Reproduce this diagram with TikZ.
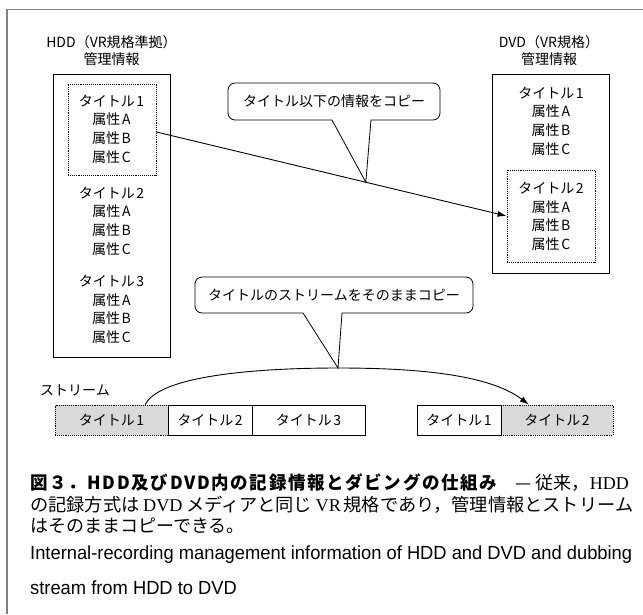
\documentclass[tikz,border=0pt]{standalone}
\usepackage{graphicx}
\usepackage{fontspec}
\setmainfont{Liberation Sans}
\newfontfamily\jp{Noto Sans CJK JP}
\newfontfamily\jpbs[LetterSpace=9.5]{Noto Sans CJK JP}
\newfontfamily\serifl{Liberation Serif}
\newfontfamily\eng{Liberation Sans}
\usetikzlibrary{arrows.meta,calc}
\newcommand{\jsp}{\hspace{0.12em}}
\newsavebox\englbox
\begin{document}
\sbox\englbox{\eng\fontsize{19}{22}\selectfont Internal-recording management information of HDD and DVD and dubbing}%
\pgfmathsetmacro\engfac{602/\wd\englbox}%
\begin{tikzpicture}[x=1pt,y=-1pt,
  font=\jp\fontsize{14}{18.7}\selectfont,
  box/.style={draw, line width=0.9pt, inner sep=0pt},
  dotbox/.style={draw, densely dotted, line width=0.9pt, inner sep=0pt},
  lbl/.style={align=center, inner sep=0pt},
  sstream/.style={draw, line width=0.9pt, inner sep=0pt, minimum height=30pt},
  gstream/.style={draw, densely dotted, line width=0.9pt, fill=gray!30, inner sep=0pt, minimum height=30pt},
  callout/.style={line width=0.8pt},
  arr/.style={line width=0.9pt, -{Latex[length=9pt,width=6pt]}},
  captext/.style={anchor=west, inner sep=0pt}]
\useasboundingbox (0,0) rectangle (643,614);
% outer frame
\draw[gray, line width=1.2pt] (643,9.5) -- (7,9.5) -- (7,614);

% HDD side
\node[lbl, font=\jp\fontsize{14}{17}\selectfont] (hddlbl) at (111.5,50.5) {HDD（VR規格準拠）\\管理情報};
\node[box, minimum width=117pt, minimum height=283pt] (hdd) at (111.5,215.5) {};
\node[dotbox, minimum width=88pt, minimum height=91pt] (hdd1) at (112,129.5) {};
\node[lbl] (h1t) at (111.5,129) {タイトル\jsp 1\\属性\jsp A\\属性\jsp B\\属性\jsp C};
\node[lbl] (h2t) at (111.5,221) {タイトル\jsp 2\\属性\jsp A\\属性\jsp B\\属性\jsp C};
\node[lbl] (h3t) at (111.5,309.5) {タイトル\jsp 3\\属性\jsp A\\属性\jsp B\\属性\jsp C};

% DVD side
\node[lbl, font=\jp\fontsize{14}{17}\selectfont] (dvdlbl) at (549,50.5) {DVD（VR規格）\\管理情報};
\node[box, minimum width=117pt, minimum height=199pt] (dvd) at (550.5,173.5) {};
\node[dotbox, minimum width=88pt, minimum height=92pt] (dvd2) at (551,216) {};
\node[lbl] (d1t) at (551,121) {タイトル\jsp 1\\属性\jsp A\\属性\jsp B\\属性\jsp C};
\node[lbl] (d2t) at (551,216.5) {タイトル\jsp 2\\属性\jsp A\\属性\jsp B\\属性\jsp C};

% copy arrow
\coordinate (as) at ($(hdd1.east)+(0,2.5)$);
\draw[arr] (as) -- (dvd2.west);
\coordinate (tip1) at ($(as)!0.598!(dvd2.west)$);

% callout 1
\draw[callout] (332,120) -- (300,120) [rounded corners=7pt] -- (228,120) -- (228,83) -- (440,83) -- (440,120) -- (400,120) [sharp corners] -- (371,120) -- (tip1) -- cycle;
\node[inner sep=0pt] (c1) at (334,101.5) {タイトル以下の情報をコピー};

% streams
\node[anchor=west, inner sep=0pt] (strl) at (40,390) {ストリーム};
\node[gstream, minimum width=113pt] (hs1) at (111.5,420) {タイトル\jsp 1};
\node[gstream, minimum width=112pt] (ds2) at (557,420) {タイトル\jsp 2};
\node[sstream, minimum width=84pt] (hs2) at (210,420) {タイトル\jsp 2};
\node[sstream, minimum width=113pt] (hs3) at (308.5,420) {タイトル\jsp 3};
\node[sstream, minimum width=84pt] (ds1) at (459,420) {タイトル\jsp 1};

% stream copy curve
\coordinate (cs) at ($(hs1.north west)!0.796!(hs1.north east)$);
\coordinate (ce) at ($(ds2.north west)!0.25!(ds2.north east)$);
\coordinate (peak) at (338,368);
\draw[arr] (cs) .. controls (160,375) and (260,368) .. (peak) .. controls (420,368) and (490,375) .. (ce);

% callout 2
\draw[callout] (303,313) -- (280,313) [rounded corners=7pt] -- (195,313) -- (195,277) -- (473,277) -- (473,313) -- (400,313) [sharp corners] -- (342,313) -- (peak) -- cycle;
\node[inner sep=0pt] (c2) at (334,295) {タイトルのストリームをそのままコピー};

% caption
\node[captext] (cap1) at (30,483) {\resizebox{467pt}{\height}{\jpbs\bfseries\fontsize{18}{22}\selectfont 図３．HDD及びDVD内の記録情報とダビングの仕組み}};
\node[anchor=east, inner sep=0pt] (cap1b) at (629,483) {\fontsize{18}{22}\selectfont — 従来，{\serifl HDD}};
\node[captext] (cap2) at (30,505) {\resizebox{603pt}{\height}{\fontsize{18}{22}\selectfont の記録方式は\hspace{0.2em}{\serifl DVD}\hspace{0.2em}メディアと同じ\hspace{0.2em}{\serifl VR}\hspace{0.15em}規格であり，管理情報とストリーム}};
\node[captext] (cap3) at (30,526) {\fontsize{18}{22}\selectfont はそのままコピーできる。};
\node[captext] (eng1) at (30,555) {\scalebox{\engfac}[1]{\usebox\englbox}};
\node[captext] (eng2) at (30,588) {\scalebox{\engfac}[1]{\eng\fontsize{19}{22}\selectfont stream from HDD to DVD}};
\end{tikzpicture}
\end{document}
